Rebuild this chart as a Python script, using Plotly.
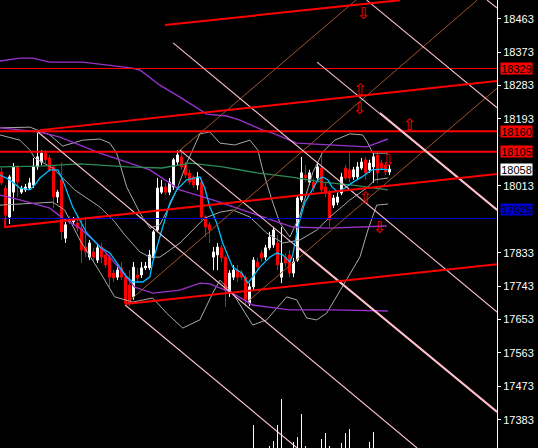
import plotly.graph_objects as go

# ---------------- data ----------------
open_ = [18050,18007,17929,17996,18064,17996,18002,18007,18015,18064,18077,18101,18088,18064,17983,18029,17872,17926,17916,17913,
         17899,17848,17821,17835,17813,17848,17827,17821,17778,17767,17792,17767,17746,17714,17773,17773,17792,17792,17819,17894,
         17996,18010,17996,18010,18077,18091,18069,18047,18037,18015,18023,17929,17908,17821,17827,17846,17821,17724,17767,17786,
         17778,17767,17697,17741,17808,17832,17821,17846,17854,17859,17767,17821,17827,17778,17813,17975,18042,18023,18023,18034,
         18061,18010,17994,17961,17969,17994,18061,18056,18037,18037,18061,18083,18056,18064,18096,18074,18069,18050]
high_ = [18061,18015,18042,18074,18069,18013,18018,18034,18088,18155,18109,18109,18096,18069,18002,18077,17916,17932,17929,17934,
         17921,17929,17867,17846,17854,17859,17835,17827,17786,17800,17808,17773,17786,17808,17792,17808,17808,17840,17894,18034,
         18029,18021,18034,18088,18109,18109,18077,18056,18042,18050,18034,17934,17916,17848,17859,17854,17827,17786,17800,17800,
         17786,17773,17751,17821,17819,17840,17854,17889,17902,17881,17902,17832,17840,17819,17988,18091,18069,18056,18034,18074,
         18101,18021,18002,17988,17994,18048,18069,18101,18064,18077,18088,18091,18083,18101,18101,18083,18077,18069]
low_ = [18015,17916,17910,17945,17983,17991,17996,18002,18007,18056,18069,18074,18050,17953,17967,17867,17859,17910,17910,17889,
        17805,17821,17813,17808,17805,17805,17792,17741,17754,17759,17759,17692,17689,17706,17754,17765,17786,17786,17813,17889,
        17991,17988,17988,18002,18069,18056,18034,18015,18007,18002,17921,17875,17859,17786,17786,17808,17687,17714,17759,17754,
        17759,17692,17689,17732,17786,17808,17813,17840,17846,17786,17751,17794,17767,17767,17808,17969,18023,18015,17996,18029,
        17994,17983,17902,17953,17961,17988,18029,18023,18029,18029,18056,18029,18048,18021,18021,18056,18042,18042]
close_ = [18021,17934,18037,18064,18023,18007,18010,18021,18066,18091,18101,18083,18056,17983,17996,17889,17908,17916,17924,17899,
          17840,17835,17859,17821,17846,17821,17800,17767,17765,17786,17767,17697,17697,17794,17765,17792,17797,17827,17889,18007,
          18010,17996,18023,18083,18096,18064,18042,18023,18015,18037,17929,17902,17894,17835,17848,17819,17732,17778,17786,17767,
          17767,17706,17741,17813,17794,17819,17846,17875,17894,17800,17805,17805,17778,17808,17980,18048,18034,18048,18007,18064,
          18002,17994,17921,17980,17983,18037,18034,18034,18056,18064,18077,18048,18074,18091,18048,18061,18050,18058]
bar_idx = list(range(len(open_)))

# short moving average (cyan)
ma_fast_x = [-0.4,2.1,4.6,7.1,8.3,9.6,12.1,14.1,15.3,17.8,21.3,24.6,27.1,29.6,31.3,32.8,35.3,37.1,37.8,40.3,42.1,43.8,46.3,49.6,
             50.8,52.1,53.8,55.3,57.8,60.1,61.6,62.8,64.6,67.1,68.8,70.3,72.1,72.8,74.1,75.8,77.6,79.1,80.3,81.6,82.6,84.1,85.8,
             87.6,90.1,92.6,95.1,96.8]
ma_fast_y = [18042,18029,18007,18002,18015,18034,18056,18056,18029,17956,17886,17848,17832,17794,17768,17754,17754,17768,17808,
             17902,17967,18002,18029,18037,18007,17956,17913,17859,17794,17778,17751,17768,17794,17821,17832,17827,17808,17827,
             17902,17967,18002,18029,18037,18029,18010,17996,18007,18021,18037,18056,18058,18056]

# long moving average (green)
ma_slow_x = [-0.4,9.6,19.6,31.6,40.1,47.1,55.3,63.8,72.1,80.3,87.8,96.6]
ma_slow_y = [18064,18066,18072,18064,18061,18074,18064,18048,18037,18023,18015,18002]

# wide envelope (purple): upper, middle, lower
env_up_x = [-0.4,4.6,7.8,12.1,20.3,27.1,32.8,34.6,39.6,44.6,49.6,51.3,56.3,59.6,65.3,67.8,73.8,82.8,91.3,96.6]
env_up_y = [18349,18357,18357,18346,18346,18338,18330,18325,18284,18252,18217,18206,18201,18190,18163,18155,18128,18123,18118,18139]
env_mid_x = [-0.4,9.6,14.6,24.6,37.1,44.6,52.8,65.3,72.8,82.1,96.3]
env_mid_y = [18169,18158,18144,18101,18056,18002,17975,17929,17902,17899,17905]
env_lo_x = [-0.4,4.6,12.1,15.3,19.6,23.8,27.1,30.8,33.3,37.8,44.6,49.6,52.1,57.8,62.8,72.1,82.8,96.6]
env_lo_y = [17988,17975,17953,17926,17899,17859,17821,17773,17740,17724,17732,17751,17749,17724,17692,17679,17679,17676]

# bollinger bands (grey)
bb_up_x = [-0.4,7.1,12.1,15.3,20.3,24.6,27.1,28.8,31.3,34.6,37.1,39.6,42.1,43.8,46.3,49.6,52.1,54.6,58.3,62.1,64.1,65.3,67.6,
           69.6,72.1,74.6,77.8,80.3,83.3,87.1,90.3,91.6,92.8,96.6]
bb_up_y = [18169,18171,18150,18120,18136,18139,18128,18101,18010,17940,17899,17908,17961,18002,18074,18153,18158,18128,18123,
           18136,18109,18056,17975,17913,17875,17934,18048,18104,18136,18153,18150,18128,18101,18101]
bb_mid_x = [-0.4,4.6,7.1,8.3,12.8,18.3,24.6,28.3,30.8,34.6,37.1,39.6,44.6,47.8,50.8,54.6,57.8,62.1,66.3,70.3,74.6,78.8,82.1,
            87.1,91.3,93.3,96.6]
bb_mid_y = [18150,18136,18109,18088,18061,18002,17956,17916,17881,17835,17821,17821,17859,17894,17926,17942,17948,17929,17886,
            17859,17867,17894,17929,17975,18007,18029,18034]
bb_lo_x = [-0.4,7.8,12.8,15.8,19.6,24.6,28.3,32.8,37.8,41.3,45.3,49.6,52.8,54.6,57.8,62.8,66.3,71.3,73.8,76.3,78.8,81.3,86.3,
           89.6,91.6,93.8,96.6]
bb_lo_y = [17961,17967,17969,17948,17867,17781,17714,17700,17711,17670,17630,17652,17724,17759,17724,17638,17652,17714,17706,
           17657,17652,17670,17759,17821,17894,17961,17964]

# tick volume
vol_idx = [63,67,68,69,70,73,74,75,76,80,81,82,85,86,87,92,93]
vol_val = [23,2,7,23,49,6,11,34,1.5,9,15,1.5,5,15,19,6,16]

# horizontal price levels
level_red_thin = [18329]
level_red = [18160, 18105]
level_blue = [17925]
last_price = 18058

# trendlines (bar index, price)
red_trend_x = [[40.9, 99.6], [9.6, 123.9], [0.9, 0.9, 123.9], [30.9, 123.9]]
red_trend_y = [[18446, 18513], [18163, 18295], [17926, 17902, 18045], [17695, 17802]]
pink_trend_x = [[30.9, 73.9], [9.1, 103.9], [44.6, 123.9], [42.9, 123.9], [78.9, 123.9], [91.3, 123.9], [121.4, 123.9]]
pink_trend_y = [[17692, 17307], [18158, 17307], [18109, 17404], [18398, 17673], [18346, 17948], [18513, 18223], [18513, 18492]]
pink_thick_x = [[73.9, 123.9], [94.6, 123.9]]
pink_thick_y = [[17849, 17404], [18209, 17948]]
brown_trend_x = [[44.1, 88.6], [31.6, 118.9], [61.4, 123.9]]
brown_trend_y = [[18104, 18513], [17700, 18513], [17700, 18276]]

# signal arrows
arrow_x = [90.4, 89.6, 89.4, 101.9, 96.6, 90.9, 94.4]
arrow_y = [18473, 18268, 18218, 18174, 18077, 17978, 17897]
arrow_dir = ["down", "up", "down", "up", "down", "up", "down"]

tick_vals = [18463, 18373, 18283, 18193, 18013, 17833, 17743, 17653, 17563, 17473, 17383]
y_range = [17307, 18513.4]
x_range = [-0.375, 123.875]

# ---------------- figure ----------------
fig = go.Figure()

def add_line(x, y, color, width):
    fig.add_trace(go.Scatter(x=x, y=y, mode="lines", line=dict(color=color, width=width),
                             hoverinfo="skip", showlegend=False))

# volume
fig.add_trace(go.Bar(x=vol_idx, y=vol_val, width=0.25, marker=dict(color="white", line=dict(width=0)),
                     yaxis="y2", hoverinfo="skip", showlegend=False))

# indicators
for xs, ys in [(bb_up_x, bb_up_y), (bb_mid_x, bb_mid_y), (bb_lo_x, bb_lo_y)]:
    add_line(xs, ys, "#A9A9A9", 1)
for xs, ys in [(env_up_x, env_up_y), (env_mid_x, env_mid_y), (env_lo_x, env_lo_y)]:
    add_line(xs, ys, "#9932CC", 1.4)
add_line(ma_slow_x, ma_slow_y, "#2E8B57", 1.4)

# candles
fig.add_trace(go.Candlestick(
    x=bar_idx, open=open_, high=high_, low=low_, close=close_,
    increasing=dict(line=dict(color="white", width=1), fillcolor="white"),
    decreasing=dict(line=dict(color="#FF0000", width=1), fillcolor="#FF0000"),
    whiskerwidth=0, hoverinfo="skip", showlegend=False))

add_line(ma_fast_x, ma_fast_y, "#00BFFF", 1.3)

# horizontal levels
for lv in level_red_thin:
    add_line(list(x_range), [lv, lv], "#FF0000", 1)
for lv in level_red:
    add_line(list(x_range), [lv, lv], "#FF0000", 2)
for lv in level_blue:
    add_line(list(x_range), [lv, lv], "#0000CD", 1)

# trendlines
for xs, ys in zip(brown_trend_x, brown_trend_y):
    add_line(xs, ys, "#A0522D", 1)
for xs, ys in zip(pink_trend_x, pink_trend_y):
    add_line(xs, ys, "#FFC0CB", 1.1)
for xs, ys in zip(pink_thick_x, pink_thick_y):
    add_line(xs, ys, "#FFC0CB", 2)
for xs, ys in zip(red_trend_x, red_trend_y):
    add_line(xs, ys, "#FF0000", 2)

# arrows
fig.add_trace(go.Scatter(
    x=arrow_x, y=arrow_y, mode="text",
    text=["\u21e9" if d == "down" else "\u21e7" for d in arrow_dir],
    textfont=dict(color="#FF0000", size=16, family="DejaVu Sans"),
    textposition="middle center", hoverinfo="skip", showlegend=False))

# price labels on the axis
label_font = dict(family="Liberation Sans Narrow, Liberation Sans, Arial", size=11)
labels = [(level_red_thin[0], "#FF0000", "black", 0),
          (level_red[0], "#FF0000", "black", 0),
          (level_red[1], "#FF0000", "black", 0),
          (last_price, "white", "black", 0),
          (level_blue[0], "#0000CD", "black", 9)]
for val, bg, fg, shift in labels:
    fig.add_annotation(x=1.006, xref="paper", y=val, yref="y", xanchor="left", yanchor="middle",
                       text=str(val), showarrow=False, bgcolor=bg, width=31, height=11,
                       borderpad=0, font=dict(color=fg, **label_font), yshift=shift)

fig.update_layout(
    width=538, height=448, autosize=False,
    margin=dict(l=0, r=41, t=0, b=0, pad=0),
    paper_bgcolor="black", plot_bgcolor="black",
    showlegend=False, barmode="overlay",
    xaxis=dict(range=x_range, visible=False, showgrid=False, zeroline=False,
               rangeslider=dict(visible=False), fixedrange=True),
    yaxis=dict(range=y_range, side="right", showgrid=False, zeroline=False,
               tickvals=tick_vals, ticktext=[str(t) for t in tick_vals],
               ticks="outside", ticklen=3, tickcolor="white", tickwidth=1,
               showline=True, linecolor="white", linewidth=1,
               tickfont=dict(color="white", **label_font), fixedrange=True),
    yaxis2=dict(range=[0, 448], overlaying="y", visible=False, fixedrange=True),
)

fig.write_html("out.html", config={"displayModeBar": False},
               post_script="document.body.style.margin='0';document.body.style.background='black';"
                           "document.body.style.overflow='hidden';")
